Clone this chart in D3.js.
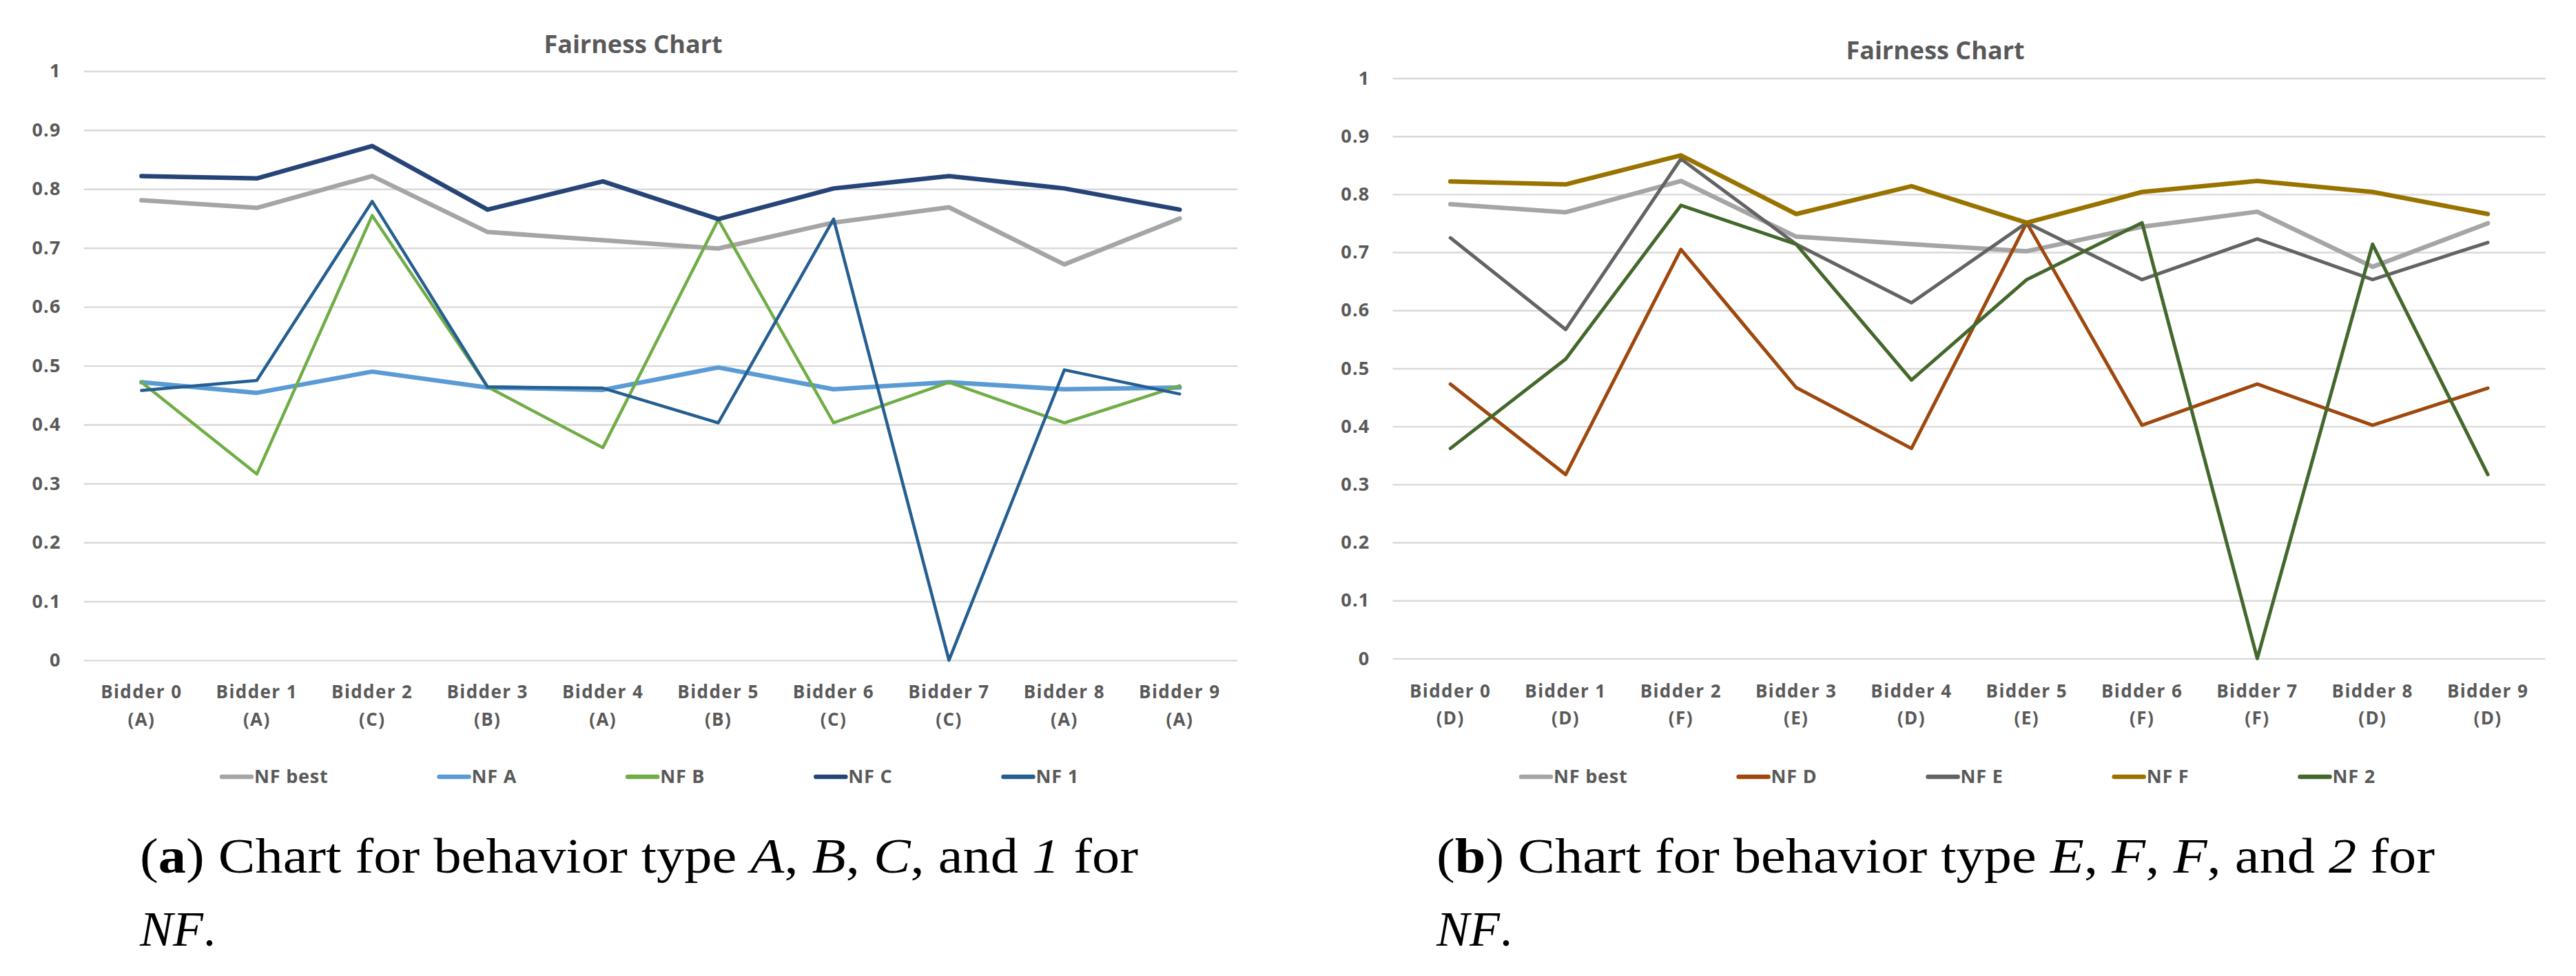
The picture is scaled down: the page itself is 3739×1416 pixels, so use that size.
<!DOCTYPE html>
<html>
<head>
<meta charset="utf-8">
<script src="https://cdn.jsdelivr.net/npm/d3@7"></script>
<style>
  html, body { margin: 0; padding: 0; background: #ffffff; }
  svg { display: block; }
</style>
</head>
<body>
<svg id="chart" width="3739" height="1416"></svg>
<script>
// ---------------- data ----------------
const categories = ["Bidder 0","Bidder 1","Bidder 2","Bidder 3","Bidder 4","Bidder 5","Bidder 6","Bidder 7","Bidder 8","Bidder 9"];
const typesLeft  = ["(A)","(A)","(C)","(B)","(A)","(B)","(C)","(C)","(A)","(A)"];
const typesRight = ["(D)","(D)","(F)","(E)","(D)","(E)","(F)","(F)","(D)","(D)"];
const yTicks = [0,0.1,0.2,0.3,0.4,0.5,0.6,0.7,0.8,0.9,1];
const chartTitle = "Fairness Chart";

// left chart series
const nfBest = [0.781,0.768,0.822,0.727,0.713,0.699,0.743,0.769,0.672,0.750];
const nfA    = [0.472,0.454,0.490,0.463,0.459,0.497,0.460,0.472,0.460,0.463];
const nfB    = [0.472,0.316,0.755,0.464,0.361,0.748,0.403,0.472,0.403,0.466];
const nfC    = [0.822,0.818,0.873,0.765,0.813,0.749,0.801,0.822,0.801,0.765];
const nf1    = [0.458,0.475,0.779,0.464,0.462,0.403,0.749,0.000,0.493,0.452];

// right chart series
const nfBestR = [0.783,0.769,0.823,0.727,0.714,0.702,0.744,0.770,0.675,0.750];
const nfD    = [0.473,0.317,0.705,0.467,0.362,0.751,0.402,0.473,0.402,0.466];
const nfE    = [0.725,0.567,0.861,0.714,0.613,0.751,0.653,0.723,0.653,0.717];
const nfF    = [0.822,0.817,0.867,0.766,0.814,0.751,0.804,0.823,0.804,0.766];
const nf2    = [0.362,0.516,0.781,0.714,0.480,0.653,0.751,0.000,0.714,0.317];

const seriesNamesLeft  = ["NF best","NF A","NF B","NF C","NF 1"];
const seriesNamesRight = ["NF best","NF D","NF E","NF F","NF 2"];

// ---------------- styles ----------------
const leftSeries = [
  {name: seriesNamesLeft[0], values: nfBest, color: "#A5A5A5", width: 6.5},
  {name: seriesNamesLeft[1], values: nfA,    color: "#5B9BD5", width: 6.5},
  {name: seriesNamesLeft[2], values: nfB,    color: "#70AD47", width: 4.5},
  {name: seriesNamesLeft[3], values: nfC,    color: "#264478", width: 6.5},
  {name: seriesNamesLeft[4], values: nf1,    color: "#255E91", width: 4.5}
];
const rightSeries = [
  {name: seriesNamesRight[0], values: nfBestR, color: "#A5A5A5", width: 6.5},
  {name: seriesNamesRight[1], values: nfD,     color: "#9E480E", width: 5},
  {name: seriesNamesRight[2], values: nfE,     color: "#636363", width: 5},
  {name: seriesNamesRight[3], values: nfF,     color: "#997300", width: 6.5},
  {name: seriesNamesRight[4], values: nf2,     color: "#43682B", width: 5}
];

const svg = d3.select("#chart");
svg.append("rect").attr("width", 3739).attr("height", 1416).attr("fill", "#fff");

const LABEL_FONT = "'Open Sans', 'Noto Sans', sans-serif";
const TEXT_GRAY = "#595959";

function drawChart(cfg) {
  const g = svg.append("g");
  const x = d3.scaleBand().domain(categories).range([cfg.x0, cfg.x1]).padding(0);
  const y = d3.scaleLinear().domain([0, 1]).range([cfg.yBottom, cfg.yTop]);
  const cx = c => x(c) + x.bandwidth() / 2;

  // title
  g.append("text")
    .attr("x", cfg.titleX).attr("y", cfg.titleY)
    .attr("text-anchor", "middle")
    .attr("font-family", LABEL_FONT).attr("font-weight", 700)
    .attr("font-size", 36).attr("fill", TEXT_GRAY)
    .text(chartTitle);

  // y axis with gridlines
  const yAxis = d3.axisLeft(y)
    .tickValues(yTicks)
    .tickFormat(d => d3.format("~g")(d))
    .tickSizeInner(-(cfg.x1 - cfg.x0))
    .tickSizeOuter(0)
    .tickPadding(33);
  const ya = g.append("g").attr("transform", `translate(${cfg.x0},0)`).call(yAxis);
  ya.select(".domain").remove();
  ya.selectAll(".tick line").attr("stroke", "#D9D9D9").attr("stroke-width", 2.4);
  ya.selectAll(".tick text")
    .attr("font-family", LABEL_FONT).attr("font-weight", 700)
    .attr("font-size", 27).attr("fill", TEXT_GRAY)
    .attr("letter-spacing", 1.2);

  // x axis labels (two lines)
  const xAxis = d3.axisBottom(x).tickSize(0).tickPadding(0);
  const xa = g.append("g").attr("transform", `translate(0,${cfg.yBottom})`).call(xAxis);
  xa.select(".domain").remove();
  xa.selectAll(".tick text").each(function(d, i) {
    const t = d3.select(this);
    t.text(null).attr("y", 0).attr("dy", null)
      .attr("font-family", LABEL_FONT).attr("font-weight", 700)
      .attr("font-size", 26).attr("fill", TEXT_GRAY)
      .attr("letter-spacing", 1.4);
    t.append("tspan").attr("x", 0).attr("y", cfg.xLab1 - cfg.yBottom).text(d);
    t.append("tspan").attr("x", 0).attr("y", cfg.xLab2 - cfg.yBottom).text(cfg.types[i]);
  });

  // lines
  const line = d3.line()
    .x((v, i) => cx(categories[i]))
    .y(v => y(v));
  cfg.series.forEach(s => {
    g.append("path")
      .datum(s.values)
      .attr("d", line)
      .attr("fill", "none")
      .attr("stroke", s.color)
      .attr("stroke-width", s.width)
      .attr("stroke-linejoin", "round")
      .attr("stroke-linecap", "round");
  });

  // legend
  let lx = cfg.legendX;
  const ly = cfg.legendY;
  cfg.series.forEach(s => {
    g.append("line")
      .attr("x1", lx + 2).attr("x2", lx + 45)
      .attr("y1", ly).attr("y2", ly)
      .attr("stroke", s.color).attr("stroke-width", 6.5)
      .attr("stroke-linecap", "round");
    const t = g.append("text")
      .attr("x", lx + 49).attr("y", ly + 9)
      .attr("font-family", LABEL_FONT).attr("font-weight", 700)
      .attr("font-size", 27).attr("fill", TEXT_GRAY)
      .attr("letter-spacing", 0.8)
      .text(s.name);
    const w = t.node().getComputedTextLength();
    lx = lx + 49 + w + 159;
  });

  // caption
  const cap = g.append("text")
    .attr("x", cfg.capX).attr("y", cfg.capY1)
    .attr("font-family", "'Liberation Serif', 'DejaVu Serif', serif")
    .attr("font-size", 72).attr("fill", "#000");
  cfg.caption.forEach(p => {
    const ts = cap.append("tspan").text(p.t);
    if (p.b) ts.attr("font-weight", 700);
    if (p.i) ts.attr("font-style", "italic");
  });
  cap.attr("textLength", cfg.capW).attr("lengthAdjust", "spacingAndGlyphs");
  const cap2 = g.append("text")
    .attr("x", cfg.capX).attr("y", cfg.capY2)
    .attr("font-family", "'Liberation Serif', 'DejaVu Serif', serif")
    .attr("font-size", 72).attr("fill", "#000");
  cap2.append("tspan").attr("font-style", "italic").text("NF");
  cap2.append("tspan").text(".");
}

drawChart({
  x0: 121.6, x1: 1796, yTop: 103.3, yBottom: 957.9,
  titleX: 919, titleY: 77,
  xLab1: 1013, xLab2: 1053,
  types: typesLeft,
  series: leftSeries,
  legendX: 320, legendY: 1127,
  capX: 203, capY1: 1266, capY2: 1372, capW: 1449,
  caption: [
    {t: "("}, {t: "a", b: true}, {t: ") Chart for behavior type "},
    {t: "A", i: true}, {t: ", "}, {t: "B", i: true}, {t: ", "},
    {t: "C", i: true}, {t: ", and "}, {t: "1", i: true}, {t: " for"}
  ]
});

drawChart({
  x0: 2021.5, x1: 3694.7, yTop: 113.5, yBottom: 955.4,
  titleX: 2809, titleY: 86,
  xLab1: 1012, xLab2: 1051,
  types: typesRight,
  series: rightSeries,
  legendX: 2206, legendY: 1127,
  capX: 2085, capY1: 1266, capY2: 1372, capW: 1449,
  caption: [
    {t: "("}, {t: "b", b: true}, {t: ") Chart for behavior type "},
    {t: "E", i: true}, {t: ", "}, {t: "F", i: true}, {t: ", "},
    {t: "F", i: true}, {t: ", and "}, {t: "2", i: true}, {t: " for"}
  ]
});
</script>
</body>
</html>
